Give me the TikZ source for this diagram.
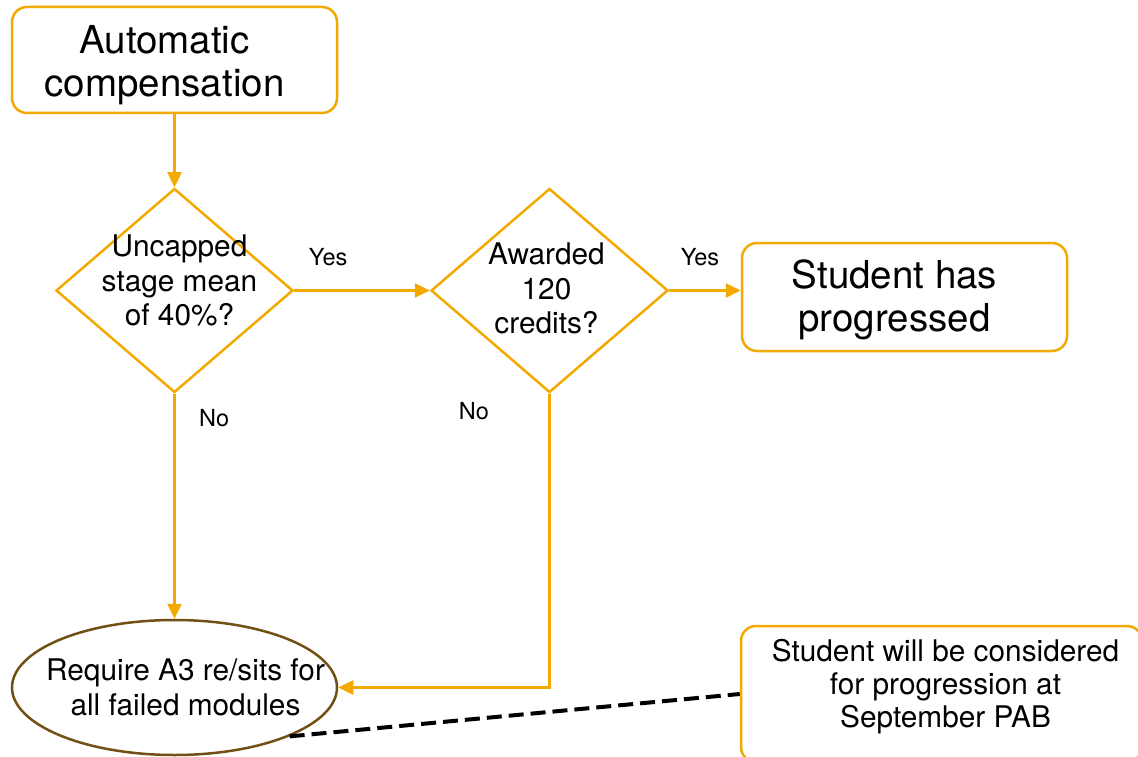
\documentclass[tikz,border=0pt]{standalone}
\usepackage{fontspec}
\setmainfont{TeX Gyre Heros}
\usetikzlibrary{arrows.meta, positioning, shapes.geometric}
\definecolor{flowgold}{RGB}{242,169,0}
\definecolor{ovalbrown}{RGB}{112,80,20}

\begin{document}
\begin{tikzpicture}[x=1pt,y=-1pt,on grid,>={Triangle[length=15pt,width=14pt]},line width=2.5pt,
	box/.style={draw=flowgold, rounded corners=15pt, minimum width=325pt, minimum height=106pt},
	decision/.style={diamond, draw=flowgold, minimum width=237pt, minimum height=204pt, inner sep=0pt},
	oval/.style={ellipse, draw=ovalbrown, minimum width=325pt, minimum height=135pt},
	bigtext/.style={font=\fontsize{38.5}{43}\selectfont, align=center},
	smalltext/.style={font=\fontsize{29.8}{34.5}\selectfont, align=center},
	answer/.style={font=\fontsize{23.5}{28}\selectfont}]
	
	\useasboundingbox (0,0) rectangle (1138,757);
	\clip (0,0) rectangle (1138,757);
	
	\node (auto) [box, label={[bigtext, xshift=-10pt, yshift=-5pt]center:{Automatic\\compensation}}] at (174.5,60) {};
	\node (q1) [decision, label={[smalltext, xshift=5pt, yshift=10pt]center:{Uncapped\\stage mean\\of 40\%?}}] at (174.5,290.5) {};
	\node (q2) [decision, right=375pt of q1, label={[smalltext, xshift=-3pt, yshift=2pt]center:{Awarded\\120\\credits?}}] {};
	\node (done) [box, minimum height=108pt, label={[bigtext, xshift=-10pt, yshift=-3pt]center:{Student has\\progressed}}] at (904.5,297) {};
	\node (resit) [oval, below=397pt of q1, label={[smalltext, xshift=11pt]center:{Require A3 re/sits for\\all failed modules}}] {};
	\node (sept) [box, minimum width=401pt, minimum height=136pt, label={[smalltext, font=\fontsize{29.8}{33}\selectfont, xshift=4pt, yshift=7pt]center:{Student will be considered\\for progression at\\September PAB}}] at (941.5,694) {};
	
	\path [->, every edge/.append style={draw=flowgold}]
	(auto) edge (q1)
	(q1) edge node [answer, pos=0.25, above=20pt] {Yes} (q2)
	(q2.east) edge node [answer, pos=0.43, above=20pt] {Yes} (q2.east -| done.west)
	(q1) edge node [answer, pos=0.11, right=20pt] {No} (resit);
	
	\draw [->, draw=flowgold] (q2.south) |- node [answer, pos=0.03, left=56pt] {No} (resit.east);
	
	\draw [black, line width=4pt, dash pattern=on 15pt off 7pt] (resit.-23) -- (sept.west);
	
\end{tikzpicture}
\end{document}
